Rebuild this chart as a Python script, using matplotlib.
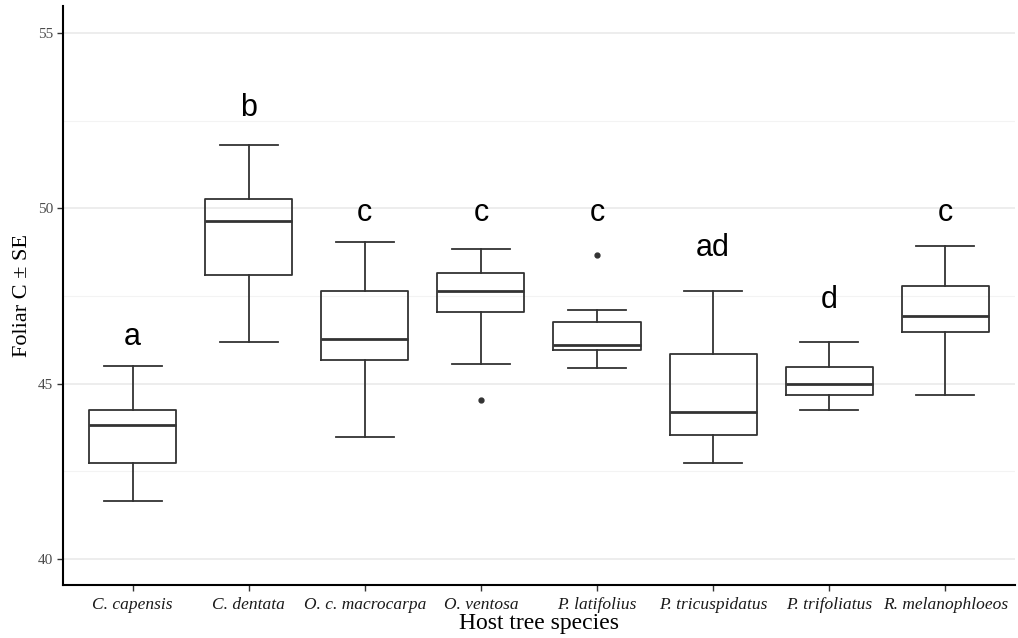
import numpy as np
import matplotlib
matplotlib.use('Agg')
import matplotlib.pyplot as plt

# host tree species and box summaries
species = ['C. capensis', 'C. dentata', 'O. c. macrocarpa', 'O. ventosa',
           'P. latifolius', 'P. tricuspidatus', 'P. trifoliatus', 'R. melanophloeos']
whis_lo = [41.65, 46.20, 43.48, 45.55, 45.44, 42.74, 44.24, 44.69]
q1      = [42.74, 48.10, 45.68, 47.05, 45.96, 43.54, 44.68, 46.48]
med     = [43.83, 49.63, 46.27, 47.63, 46.11, 44.18, 44.99, 46.94]
q3      = [44.24, 50.28, 47.64, 48.15, 46.76, 45.86, 45.49, 47.79]
whis_hi = [45.50, 51.80, 49.05, 48.83, 47.11, 47.65, 46.20, 48.92]
outliers = [[], [], [], [44.53], [48.67], [], [], []]

# significance letters and their heights
letters = ['a', 'b', 'c', 'c', 'c', 'ad', 'd', 'c']
letter_y = [46.33, 52.85, 49.88, 49.88, 49.88, 48.88, 47.38, 49.88]

stats = []
for i in range(len(species)):
    stats.append({'label': species[i], 'whislo': whis_lo[i], 'q1': q1[i],
                  'med': med[i], 'q3': q3[i], 'whishi': whis_hi[i],
                  'fliers': outliers[i]})

fig = plt.figure(figsize=(10.18, 6.38), dpi=100)
ax = fig.add_axes([0.0619, 0.0831, 0.9351, 0.9075])

pos = np.arange(1, len(species) + 1)
line = dict(color='#333333', linewidth=1.3)
ax.bxp(stats, positions=pos, widths=0.75, patch_artist=False,
       boxprops=line, whiskerprops=line, capprops=line,
       medianprops=dict(color='#333333', linewidth=2.0),
       flierprops=dict(marker='o', markersize=3.5, markerfacecolor='#333333',
                       markeredgecolor='#333333'),
       capwidths=0.5)

for i in range(len(species)):
    ax.text(pos[i], letter_y[i], letters[i], ha='center', va='center',
            fontsize=22, family='Liberation Sans', color='black')

# grid like ggplot: major and minor horizontal lines only
ax.set_ylim(39.26, 55.77)
ax.set_xlim(0.4, 8.6)
ax.set_yticks([40, 45, 50, 55])
ax.set_yticks([42.5, 47.5, 52.5], minor=True)
ax.grid(axis='y', which='major', color='#e8e8e8', linewidth=1.1)
ax.grid(axis='y', which='minor', color='#f3f3f3', linewidth=0.8)
ax.set_axisbelow(True)

ax.set_xticks(pos)
ax.set_xticklabels(species, family='Liberation Serif', style='italic',
                   fontsize=12.5, color='#1a1a1a')
for t in ax.get_yticklabels():
    t.set_family('Liberation Serif')
    t.set_fontsize(11)
    t.set_color('#4d4d4d')
ax.tick_params(axis='both', which='major', length=4, color='#333333', width=1)
ax.tick_params(axis='y', which='minor', length=0)
ax.tick_params(axis='y', pad=3)
ax.tick_params(axis='x', pad=5)

ax.spines['top'].set_visible(False)
ax.spines['right'].set_visible(False)
ax.spines['left'].set_linewidth(1.5)
ax.spines['bottom'].set_linewidth(1.5)

ax.set_xlabel('Host tree species', family='Liberation Serif', fontsize=17, labelpad=0)
ax.set_ylabel('Foliar C ± SE', family='Liberation Serif', fontsize=16, labelpad=4)

plt.savefig('out.png', dpi=100)
